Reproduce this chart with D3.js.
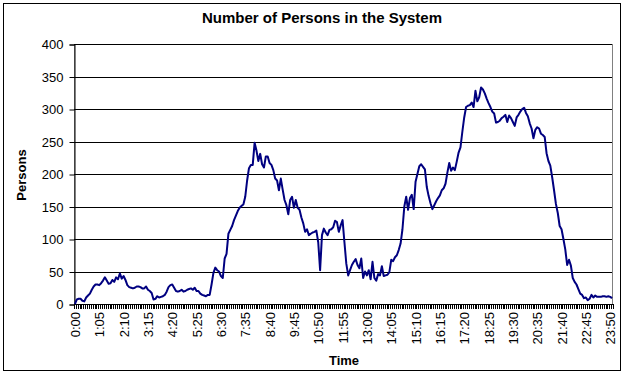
<!DOCTYPE html>
<html><head><meta charset="utf-8">
<script src="https://cdn.jsdelivr.net/npm/d3@7/dist/d3.min.js"></script>
<style>body{margin:0;background:#fff}svg{display:block}text{font-family:"Liberation Sans",Arial,sans-serif}</style>
</head><body><svg id="c" width="624" height="374"></svg>
<script>
const persons = [
0,7,8,8,5,4,10,13,16,22,
27,30,30,29,32,36,41,36,31,32,
37,34,41,38,47,39,43,37,29,26,
25,24,25,27,27,26,24,24,27,22,
20,17,7,8,12,10,11,12,14,19,
26,29,30,25,20,19,20,22,19,20,
22,23,24,22,25,20,20,16,14,13,
12,14,14,30,48,56,52,50,43,40,
70,77,108,114,120,129,136,143,148,151,
153,165,190,209,214,214,248,236,220,231,
215,210,227,227,217,214,206,193,190,175,
193,176,160,152,138,160,165,148,160,148,
145,133,124,111,115,106,108,110,111,113,
95,52,106,116,110,106,114,115,118,128,
126,111,121,129,95,62,44,52,60,65,
69,60,55,70,40,50,44,52,38,65,
40,36,46,44,58,43,44,45,49,68,
66,72,75,83,93,115,150,165,145,163,
168,146,188,200,212,215,211,207,180,166,
155,146,152,158,163,167,175,178,185,202,
217,205,210,206,219,233,241,265,287,303,
305,306,310,303,328,312,318,333,330,324,
316,309,303,296,293,279,280,282,286,288,
291,280,290,286,280,274,287,291,296,300,
302,294,289,278,270,255,268,272,270,262,
260,257,232,220,213,195,175,154,140,120,
115,100,84,60,68,59,40,34,30,23,
16,14,9,10,6,8,14,10,13,11,
11,11,12,12,11,12,11,9
];
const categories = persons.map((_, i) => {
  const m = i * 5; return Math.floor(m / 60) + ":" + String(m % 60).padStart(2, "0");
});
const tickLabels = ["0:00","1:05","2:10","3:15","4:20","5:25","6:30","7:35","8:40","9:45","10:50","11:55","13:00","14:05","15:10","16:15","17:20","18:25","19:30","20:35","21:40","22:45","23:50"];
const yTicks = [0,50,100,150,200,250,300,350,400];

const svg = d3.select("#c");
const L = 74, R = 613, T = 44, B = 304;

svg.append("rect").attr("x",3.5).attr("y",3.5).attr("width",617).attr("height",367)
  .attr("fill","#fff").attr("stroke","#000").attr("stroke-width",1);

const x = d3.scaleBand().domain(categories).range([L, R]).padding(0);
const y = d3.scaleLinear().domain([0, 400]).range([B, T]);

svg.append("rect").attr("x",L+0.5).attr("y",T+0.5).attr("width",R-L-1).attr("height",B-T)
  .attr("fill","none").attr("stroke","#808080");

svg.append("g").selectAll("line").data(yTicks.filter(d=>d>0)).join("line")
  .attr("x1",L).attr("x2",R-1)
  .attr("y1",d=>Math.round(y(d))+0.5).attr("y2",d=>Math.round(y(d))+0.5)
  .attr("stroke","#000").attr("stroke-width",1);

const yAxis = d3.axisLeft(y).tickValues(yTicks).tickSize(5).tickPadding(6);
const gy = svg.append("g").attr("transform",`translate(${L+0.5},0.5)`).call(yAxis);
gy.select(".domain").attr("stroke","#000");
gy.selectAll(".tick line").attr("stroke","#000");
gy.selectAll("text").attr("font-size","13px").attr("fill","#000").attr("font-family","'Liberation Sans',Arial,sans-serif");

svg.append("line").attr("x1",L).attr("x2",R).attr("y1",B+0.5).attr("y2",B+0.5).attr("stroke","#000");
const bounds = categories.map(c => x(c)).concat([R]);
svg.append("g").selectAll("line").data(bounds).join("line")
  .attr("x1",d=>Math.round(d)+0.5).attr("x2",d=>Math.round(d)+0.5)
  .attr("y1",B).attr("y2",B+5).attr("stroke","#000").attr("stroke-width",1);

svg.append("g").selectAll("text").data(tickLabels).join("text")
  .attr("transform",d=>`translate(${x(d)+x.bandwidth()/2+5},${B+8}) rotate(-90)`)
  .attr("text-anchor","end").attr("font-size","13px").attr("fill","#000").text(d=>d);

const line = d3.line().x((d,i)=>x(categories[i])+x.bandwidth()/2).y(d=>y(d));
svg.append("path").datum(persons).attr("d",line).attr("fill","none")
  .attr("stroke","#000080").attr("stroke-width",2).attr("stroke-linejoin","round");

svg.append("text").attr("x",322).attr("y",23).attr("text-anchor","middle")
  .attr("font-size","15px").attr("font-weight","bold").text("Number of Persons in the System");
svg.append("text").attr("x",344).attr("y",365).attr("text-anchor","middle")
  .attr("font-size","13px").attr("font-weight","bold").text("Time");
svg.append("text").attr("transform","translate(26,175) rotate(-90)").attr("text-anchor","middle")
  .attr("font-size","13px").attr("font-weight","bold").text("Persons");
</script></body></html>
